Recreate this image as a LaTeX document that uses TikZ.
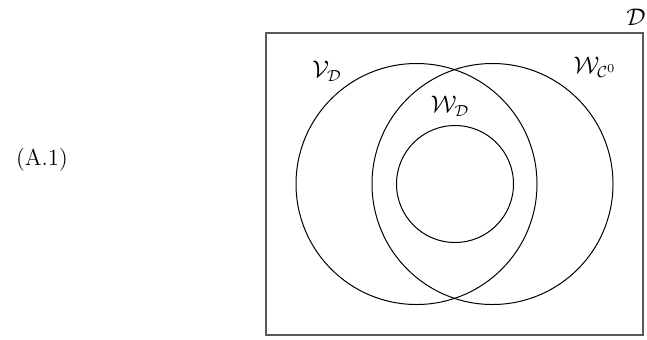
\documentclass[tikz,border=0pt]{standalone}
\usepackage{amsmath,amssymb}
\usepackage{tikz}
\usetikzlibrary{positioning}

\begin{document}
\begin{tikzpicture}[x=0.5pt,y=-0.5pt,font=\fontsize{11.5pt}{14pt}\selectfont,
set/.style={draw,circle,line width=0.5pt,inner sep=0pt},
lab/.style={inner sep=1pt}]
\useasboundingbox (0,0) rectangle (647,339);
% the frame D and the three sets
\node[draw=black!65,line width=0.9pt,inner sep=0pt,minimum width=188.5pt,minimum height=151pt] (D) at (454.5,184) {};
\node[set,minimum size=120.5pt] (V) at (416.5,184) {};
\node[set,minimum size=120.5pt] (W0) at (492.5,184) {};
\node[set,minimum size=58.5pt] (WD) at (455,184) {};
% labels
\node[lab] (Dlab) at (636,17) {$\mathcal{D}$};
\node[lab] (Vlab) at (327,71) {$\mathcal{V}_{\mathcal{D}}$};
\node[lab] (WDlab) at (450,106) {$\mathcal{W}_{\mathcal{D}}$};
\node[lab] (W0lab) at (595,67) {$\mathcal{W}_{\mathcal{C}^0}$};
\node[lab] (eqn) at (42,160) {(A.1)};
\end{tikzpicture}
\end{document}
